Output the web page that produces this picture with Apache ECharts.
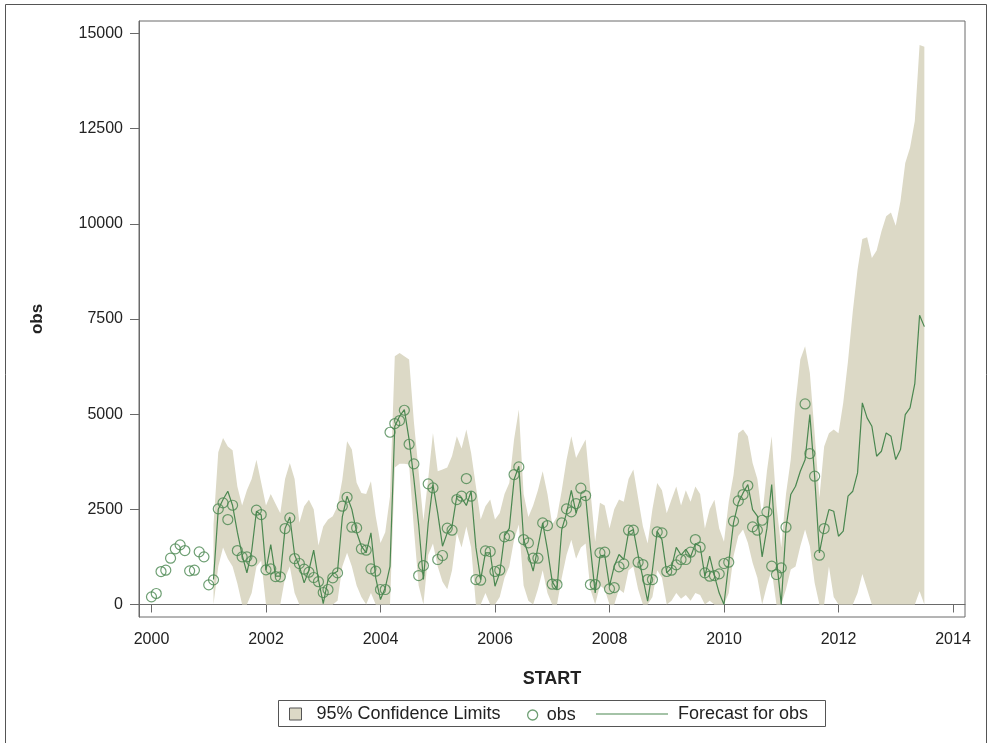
<!DOCTYPE html>
<html><head><meta charset="utf-8">
<script src="https://cdn.jsdelivr.net/npm/echarts@6/dist/echarts.min.js"></script>
<style>html,body{margin:0;padding:0;background:#fff}#c{width:993px;height:743px}</style>
</head><body><div id="c"></div>
<script>
// Monthly series starting January 2000
const startYear = 2000;
const obsValues = [
 201,289,866,901,1217,1462,1567,1418,884,901,1383,1252,
 516,648,2512,2670,2232,2608,1418,1252,1252,1147,2477,2363,
 910,937,735,727,1996,2276,1208,1077,928,849,709,600,
 315,394,700,831,2582,2818,2031,2013,1462,1427,937,875,
 394,394,4525,4753,4832,5103,4210,3694,761,1024,3169,3064,
 1182,1287,2004,1952,2757,2845,3309,2845,656,639,1409,1392,
 867,901,1777,1812,3414,3615,1707,1619,1217,1217,2144,2074,
 534,525,2144,2512,2433,2652,3055,2862,525,525,1357,1374,
 411,446,989,1068,1952,1952,1112,1050,656,656,1908,1882,
 867,901,1042,1182,1182,1374,1707,1506,832,744,761,805,
 1077,1112,2188,2722,2888,3125,2039,1952,2214,2433,1007,788,
 963,2031,null,null,null,5269,3965,3370,1295,1996
];
// Forecast / limits start at month index 13 (Feb 2001) and run to Jul 2013
const forecastStartMonth = 13;
const forecastValues = [
 656,2500,2757,2976,2600,1900,1300,830,1400,2450,2350,
 900,1576,744,744,2000,2300,1300,1007,569,900,1427,656,
 26,650,800,875,2300,2845,2500,1900,1532,1357,1882,700,
 131,438,1000,4683,4945,5120,4333,3300,2100,656,2127,3150,
 2400,1532,1882,2057,2845,2800,2600,2976,1500,656,1357,1360,
 481,831,1800,2000,3282,3632,1707,1313,875,1500,2144,1444,
 600,394,1970,2400,3000,2400,2800,2845,1500,306,1269,1300,
 481,1007,1313,1182,1900,1970,1300,700,88,900,1926,1700,
 831,963,1500,1300,1450,1250,1600,1530,744,1270,750,300,
 0,1094,2144,2670,2932,3151,2495,2320,1250,2000,3151,1200,
 0,2013,2888,3107,3500,3800,4989,3370,1357,2000,2495,2451,
 1794,1926,2845,2976,3457,5296,4902,4683,3895,4026,4508,4420,
 3808,4070,4989,5164,5800,7600,7300
];
const upperValues = [
 2100,4000,4376,4150,4050,3100,2600,3000,3300,3800,3200,
 2600,2900,2650,2400,3300,3720,3300,2150,2580,2750,2500,1550,
 2050,2230,2320,2580,3280,4290,4070,3200,2930,2900,3240,2320,
 1619,1900,2845,6521,6608,6520,6433,4800,3500,2200,3300,4508,
 3500,3545,3600,3900,4420,4100,4595,3983,3107,2232,2582,2757,
 2232,2407,2900,3195,4333,5120,2900,2300,2600,3000,3500,2900,
 2100,2300,3000,3800,4420,3850,4100,4333,3000,1650,2670,2600,
 2000,2500,2757,2700,3300,3545,2800,2057,1600,2500,3195,3000,
 2400,2757,3100,2600,3000,2700,3100,2900,2000,2500,2750,2000,
 1650,2700,3400,4500,4600,4420,3720,3300,2300,3500,4420,2600,
 1500,2900,3808,5296,6433,6783,6083,4500,2800,4150,4500,4600,
 4500,5300,6400,7700,8800,9600,9650,9100,9300,9800,10200,10300,
 9950,10600,11600,12000,12700,14700,14650
];
const lowerValues = [
 0,1000,1500,1200,1000,550,0,0,300,1000,1150,
 0,0,0,0,700,1000,300,0,0,0,0,0,
 0,0,0,100,1000,1357,1000,500,200,0,300,0,
 0,0,0,3600,3700,3700,3680,2000,500,0,1300,1600,
 1000,600,400,900,1880,1500,2050,1500,0,0,300,0,
 0,200,700,1000,1700,2100,500,100,0,400,900,300,
 0,0,700,1300,1700,1200,1500,1600,400,0,500,400,
 0,0,400,300,900,1000,400,0,0,200,900,700,
 0,100,300,150,250,100,300,250,0,100,0,0,
 0,300,1270,1800,1970,1620,1100,700,0,500,900,0,
 0,400,920,1000,1530,1970,1530,570,0,0,1000,200,
 0,0,0,0,300,800,400,0,0,0,0,0,
 0,0,0,0,0,350,0
];
const xTickValues = [2000,2002,2004,2006,2008,2010,2012,2014];
const yTickValues = [0,2500,5000,7500,10000,12500,15000];

const GREEN = '#4a8750';
const LINEGREEN = '#4a8750';
const BAND = '#dcd9c6';
const FRAME = '#6a6a6a';
const TEXT = '#222';
const FONT = '"Liberation Sans", Arial, sans-serif';

function monthToYear(i){ return startYear + i/12; }
const obsData = [];
obsValues.forEach((v,i)=>{ if (v !== null) obsData.push([monthToYear(i), v]); });
const fcData = forecastValues.map((v,i)=>[monthToYear(forecastStartMonth+i), v]);
const bandData = forecastValues.map((v,i)=>[monthToYear(forecastStartMonth+i), lowerValues[i], upperValues[i]]);

const chart = echarts.init(document.getElementById('c'), null, {renderer:'canvas'});
chart.setOption({
  animation:false,
  backgroundColor:'#fff',
  grid:{left:139, right:28, top:21, bottom:126, show:true, borderColor:FRAME, borderWidth:1, backgroundColor:'transparent'},
  xAxis:{
    type:'value', min:1999.782, max:2014.21,
    name:'START', nameLocation:'middle', nameGap:53,
    nameTextStyle:{fontFamily:FONT, fontWeight:'bold', fontSize:18, color:TEXT},
    axisLine:{show:true, lineStyle:{color:FRAME}},
    axisTick:{show:true, length:8, customValues:xTickValues, lineStyle:{color:FRAME}},
    axisLabel:{customValues:xTickValues, margin:15, fontFamily:FONT, fontSize:16, color:TEXT, formatter:v=>String(Math.round(v))},
    splitLine:{show:false}
  },
  yAxis:{
    type:'value', min:-328, max:15328,
    name:'obs', nameLocation:'middle', nameGap:93, nameRotate:90,
    nameTextStyle:{fontFamily:FONT, fontWeight:'bold', fontSize:17, color:TEXT},
    axisLine:{show:true, lineStyle:{color:FRAME}},
    axisTick:{show:true, length:9, customValues:yTickValues, lineStyle:{color:FRAME}},
    axisLabel:{customValues:yTickValues, margin:16, fontFamily:FONT, fontSize:16, color:TEXT, formatter:v=>String(Math.round(v))},
    splitLine:{show:false}
  },
  legend:[
    {data:[{name:'95% Confidence Limits', icon:'rect', itemStyle:{color:BAND, borderColor:'#555', borderWidth:1}}],
     left:284, top:700, itemWidth:12, itemHeight:12, selectedMode:false, z:5,
     textStyle:{fontFamily:FONT, fontSize:18, color:TEXT, padding:[0,0,0,10]}},
    {data:[{name:'obs', icon:'circle', itemStyle:{color:'#fff', borderColor:GREEN, borderWidth:1.3}}],
     left:522, top:701, itemWidth:10, itemHeight:10, selectedMode:false, z:5,
     textStyle:{fontFamily:FONT, fontSize:18, color:TEXT, padding:[0,0,0,4]}},
    {data:[{name:'Forecast for obs', icon:'rect', itemStyle:{color:LINEGREEN}}],
     left:591, top:700, itemWidth:72, itemHeight:1.2, selectedMode:false, z:5,
     textStyle:{fontFamily:FONT, fontSize:18, color:TEXT, padding:[0,0,0,5]}}
  ],
  graphic:[
    {type:'rect', silent:true, z:0, shape:{x:5.5, y:4.5, width:981, height:780}, style:{fill:null, stroke:'#555', lineWidth:1}},
    {type:'rect', silent:true, z:1, shape:{x:278.5, y:700.5, width:547, height:26}, style:{fill:'#fff', stroke:'#555', lineWidth:1}}
  ],
  series:[
    {type:'custom', name:'95% Confidence Limits', data:bandData, encode:{x:0, y:[1,2]}, z:1, silent:true,
     itemStyle:{color:BAND},
     renderItem:function(params, api){
       if (params.dataIndex !== 0) return null;
       const pts = [];
       for (let i=0;i<bandData.length;i++) pts.push(api.coord([bandData[i][0], bandData[i][2]]));
       for (let i=bandData.length-1;i>=0;i--) pts.push(api.coord([bandData[i][0], bandData[i][1]]));
       return {type:'polygon', shape:{points:pts}, style:{fill:BAND, stroke:null}};
     }},
    {type:'line', name:'Forecast for obs', data:fcData, symbol:'none', z:3, silent:true,
     lineStyle:{color:LINEGREEN, width:1.2}, itemStyle:{color:LINEGREEN}},
    {type:'scatter', name:'obs', data:obsData, symbol:'circle', symbolSize:10, z:4, silent:true,
     itemStyle:{color:'rgba(255,255,255,0)', borderColor:GREEN, borderWidth:1.2}}
  ]
});
</script></body></html>
